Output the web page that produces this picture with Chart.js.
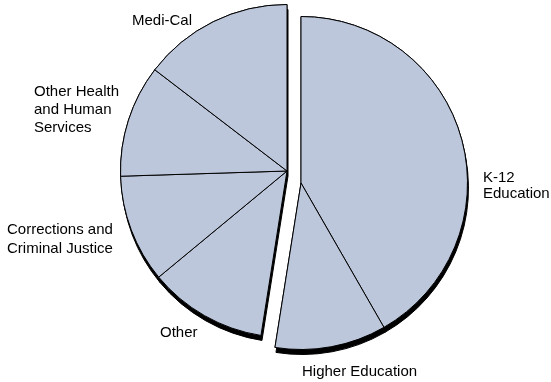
<!DOCTYPE html>
<html>
<head>
<meta charset="utf-8">
<script src="https://cdn.jsdelivr.net/npm/chart.js@4/dist/chart.umd.min.js"></script>
<style>
  html, body { margin: 0; padding: 0; background: #fff; }
  #wrap { width: 551px; height: 382px; position: relative; }
</style>
</head>
<body>
<div id="wrap"><canvas id="c" width="551" height="382"></canvas></div>
<script>
// ---- data ----
const categories = [
  ['K-12', 'Education'],
  ['Higher Education'],
  ['Other'],
  ['Corrections and', 'Criminal Justice'],
  ['Other Health', 'and Human', 'Services'],
  ['Medi-Cal']
];
const shares = [41.7, 10.8, 11.5, 10.5, 10.9, 14.6];
const sliceGroups = ['education', 'education', 'rest', 'rest', 'rest', 'rest'];

// ---- styling ----
const FILL = '#bdc7db';
const groupShift = { education: { x: 7, y: 6 }, rest: { x: -7, y: -6 } };
const labelStyle = [
  { x: 483, y: 182, lh: 15.5 },
  { x: 302, y: 376, lh: 17 },
  { x: 160, y: 337, lh: 17 },
  { x: 7,   y: 234, lh: 19 },
  { x: 34,  y: 96,  lh: 18 },
  { x: 132, y: 25,  lh: 17 }
];

const groupExplode = {
  id: 'groupExplode',
  afterDatasetsUpdate(chart) {
    const meta = chart.getDatasetMeta(0);
    meta.data.forEach((arc, i) => {
      const s = groupShift[sliceGroups[i]];
      arc.x += s.x;
      arc.y += s.y;
    });
  }
};

const depthShadow = {
  id: 'depthShadow',
  beforeDatasetsDraw(chart) {
    const ctx = chart.ctx;
    const meta = chart.getDatasetMeta(0);
    ctx.save();
    ctx.shadowColor = '#000';
    ctx.shadowOffsetX = 1;
    ctx.shadowOffsetY = 5;
    ctx.shadowBlur = 0;
    meta.data.forEach(arc => arc.draw(ctx));
    ctx.restore();
  }
};

const sliceLabels = {
  id: 'sliceLabels',
  afterDraw(chart) {
    const ctx = chart.ctx;
    ctx.save();
    ctx.fillStyle = '#000';
    ctx.font = '15px "Liberation Sans", Arial, sans-serif';
    ctx.textAlign = 'left';
    ctx.textBaseline = 'alphabetic';
    chart.data.labels.forEach((lines, i) => {
      const st = labelStyle[i];
      lines.forEach((t, j) => ctx.fillText(t, st.x, st.y + j * st.lh));
    });
    ctx.restore();
  }
};

new Chart(document.getElementById('c'), {
  type: 'pie',
  data: {
    labels: categories,
    datasets: [{
      data: shares,
      backgroundColor: FILL,
      borderColor: '#000',
      borderWidth: 1,
      hoverOffset: 0
    }]
  },
  options: {
    responsive: false,
    animation: false,
    events: [],
    layout: { padding: { left: 37, right: 0, top: 10, bottom: 38 } },
    plugins: { legend: { display: false }, tooltip: { enabled: false } }
  },
  plugins: [groupExplode, depthShadow, sliceLabels]
});
</script>
</body>
</html>
